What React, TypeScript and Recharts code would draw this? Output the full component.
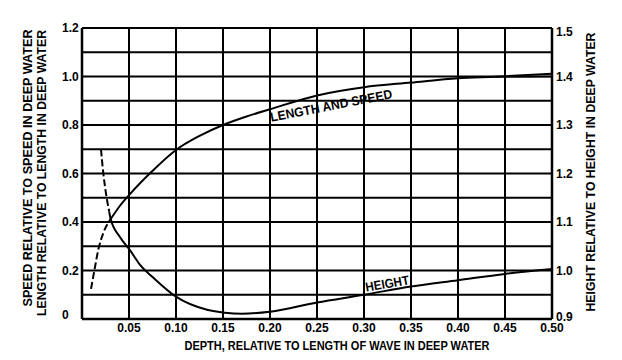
import React from 'react';
import { LineChart, Line, XAxis, YAxis, CartesianGrid } from 'recharts';

// depth relative to deep-water wave length
const depthTicks = [0, 0.05, 0.1, 0.15, 0.2, 0.25, 0.3, 0.35, 0.4, 0.45, 0.5];
const ratioTicks = [0, 0.1, 0.2, 0.3, 0.4, 0.5, 0.6, 0.7, 0.8, 0.9, 1.0, 1.1, 1.2];
const heightTicks = [0.9, 1.0, 1.1, 1.2, 1.3, 1.4, 1.5];

// length & speed (left axis)
const lengthDashedX = [0.0096, 0.0138, 0.0173, 0.0227, 0.0305];
const lengthDashedY = [0.124, 0.214, 0.285, 0.355, 0.412];
const lengthX = [0.0305, 0.04, 0.051, 0.074, 0.1, 0.125, 0.15, 0.175, 0.2, 0.25, 0.3, 0.35, 0.4, 0.44, 0.5];
const lengthY = [0.412, 0.465, 0.515, 0.607, 0.697, 0.755, 0.8, 0.835, 0.865, 0.922, 0.956, 0.975, 0.993, 0.999, 1.011];
const speedTailX = [0.44, 0.47, 0.5];
const speedTailY = [0.999, 0.999, 1.0];

// height (right axis)
const heightDashedX = [0.0202, 0.0227, 0.0255, 0.029];
const heightDashedY = [1.25, 1.2, 1.159, 1.121];
const heightX = [0.029, 0.0305, 0.04, 0.051, 0.062, 0.076, 0.1, 0.133, 0.152, 0.17, 0.2, 0.25, 0.3, 0.35, 0.4, 0.45, 0.5];
const heightY = [1.121, 1.106, 1.07, 1.042, 1.011, 0.985, 0.946, 0.919, 0.913, 0.911, 0.915, 0.934, 0.95, 0.967, 0.98, 0.993, 1.003];

const pairs = (xs: number[], ys: number[]) => xs.map((x, i) => ({ x, y: ys[i] }));

const FONT = '"Liberation Sans", Arial, sans-serif';

const renderXTick = (props: any) => {
  const { x, payload } = props;
  if (payload.value === 0) return <g key={`xt-${payload.value}`} />;
  return (
    <text key={`xt-${payload.value}`} x={x} y={332} textAnchor="middle" fontFamily={FONT} fontWeight="bold" fontSize={12} fill="#000">
      {payload.value.toFixed(2)}
    </text>
  );
};

const renderLeftTick = (props: any) => {
  const { y, payload } = props;
  const v = payload.value;
  if (Math.round(v * 10) % 2 !== 0) return <g key={`lt-${v}`} />;
  const label = v === 0 ? '0' : v.toFixed(1);
  const dy = v === 0 ? 0 : 4;
  return (
    <text key={`lt-${v}`} x={62} y={y + dy} textAnchor="start" fontFamily={FONT} fontWeight="bold" fontSize={12} fill="#000">
      {label}
    </text>
  );
};

const renderRightTick = (props: any) => {
  const { y, payload } = props;
  const v = payload.value;
  const dy = v === 1.5 ? 8 : v === 0.9 ? 2 : 4;
  return (
    <text key={`rt-${v}`} x={556} y={y + dy} textAnchor="start" fontFamily={FONT} fontWeight="bold" fontSize={12} fill="#000">
      {v.toFixed(1)}
    </text>
  );
};

const titleStyle = { fontFamily: FONT, fontWeight: 'bold' as const, fontSize: 13, fill: '#000' };

export default function App() {
  return (
    <div style={{ position: 'absolute', left: 0, top: 0, width: 622, height: 360, background: '#fff' }}>
      <LineChart width={622} height={360} margin={{ top: 28, right: 40, bottom: 11, left: 52 }}>
        <CartesianGrid yAxisId="left" stroke="#000" strokeWidth={2} strokeOpacity={1} />
        <XAxis
          type="number"
          dataKey="x"
          domain={[0, 0.5]}
          ticks={depthTicks}
          height={30}
          axisLine={{ stroke: '#000', strokeWidth: 2.5 }}
          tickLine={false}
          tick={renderXTick}
          interval={0}
        />
        <YAxis
          yAxisId="left"
          type="number"
          domain={[0, 1.2]}
          ticks={ratioTicks}
          width={30}
          axisLine={{ stroke: '#000', strokeWidth: 2.5 }}
          tickLine={false}
          tick={renderLeftTick}
          interval={0}
        />
        <YAxis
          yAxisId="right"
          orientation="right"
          type="number"
          domain={[0.9, 1.5]}
          ticks={heightTicks}
          width={30}
          axisLine={{ stroke: '#000', strokeWidth: 2.5 }}
          tickLine={false}
          tick={renderRightTick}
          interval={0}
        />
        <Line yAxisId="left" data={pairs(lengthDashedX, lengthDashedY)} dataKey="y" type="monotone" stroke="#000" strokeWidth={2} strokeDasharray="7 3" dot={false} isAnimationActive={false} />
        <Line yAxisId="left" data={pairs(lengthX, lengthY)} dataKey="y" type="monotone" stroke="#000" strokeWidth={2} dot={false} isAnimationActive={false} />
        <Line yAxisId="left" data={pairs(speedTailX, speedTailY)} dataKey="y" type="monotone" stroke="#000" strokeWidth={1.5} dot={false} isAnimationActive={false} />
        <Line yAxisId="right" data={pairs(heightDashedX, heightDashedY)} dataKey="y" type="monotone" stroke="#000" strokeWidth={2} strokeDasharray="7 3" dot={false} isAnimationActive={false} />
        <Line yAxisId="right" data={pairs(heightX, heightY)} dataKey="y" type="monotone" stroke="#000" strokeWidth={2} dot={false} isAnimationActive={false} />
      </LineChart>
      <svg width={622} height={360} style={{ position: 'absolute', left: 0, top: 0, pointerEvents: 'none' }}>
        <text {...titleStyle} transform="translate(32,168) rotate(-90)" textAnchor="middle" textLength={277} lengthAdjust="spacingAndGlyphs">
          SPEED RELATIVE TO SPEED IN DEEP WATER
        </text>
        <text {...titleStyle} transform="translate(46,173) rotate(-90)" textAnchor="middle" textLength={286} lengthAdjust="spacingAndGlyphs">
          LENGTH RELATIVE TO LENGTH IN DEEP WATER
        </text>
        <text {...titleStyle} transform="translate(595,172) rotate(-90)" textAnchor="middle" textLength={279} lengthAdjust="spacingAndGlyphs">
          HEIGHT RELATIVE TO HEIGHT IN DEEP WATER
        </text>
        <text {...titleStyle} x={337} y={350} textAnchor="middle" textLength={305} lengthAdjust="spacingAndGlyphs">
          DEPTH, RELATIVE TO LENGTH OF WAVE IN DEEP WATER
        </text>
        <text {...titleStyle} transform="translate(332,110) rotate(-11)" textAnchor="middle" textLength={124} lengthAdjust="spacingAndGlyphs">
          LENGTH AND SPEED
        </text>
        <text {...titleStyle} transform="translate(388,288) rotate(-10)" textAnchor="middle" textLength={44} lengthAdjust="spacingAndGlyphs">
          HEIGHT
        </text>
      </svg>
    </div>
  );
}
